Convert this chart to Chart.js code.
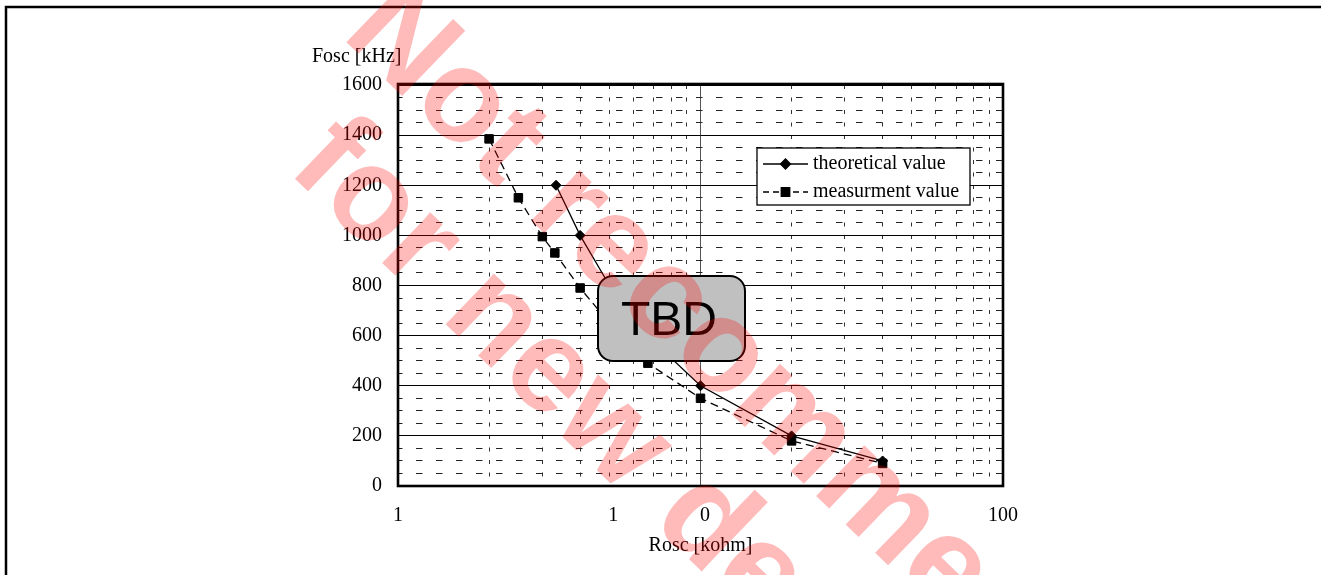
<!DOCTYPE html>
<html>
<head>
<meta charset="utf-8">
<title>Fosc vs Rosc</title>
<script src="https://cdn.jsdelivr.net/npm/chart.js@4.4.1/dist/chart.umd.min.js"></script>
<style>
    html, body { margin: 0; padding: 0; background: #fff; }
    #wrap { width: 1321px; height: 575px; }
</style>
</head>
<body>
<div id="wrap"><canvas id="myChart" width="1321" height="575"></canvas></div>
<script>
// values
var roscTheory = [3.33, 4, 5, 6.67, 10, 20, 40]
var foscTheory = [1200, 1000, 800, 600, 400, 200, 100]
var roscMeas = [2, 2.5, 3, 3.3, 4, 5, 6.7, 10, 20, 40]
var foscMeas = [1385, 1150, 995, 930, 790, 650, 490, 350, 180, 90]

// axes
var xGridVals = [1, 2, 3, 4, 5, 6, 7, 8, 9, 10, 20, 30, 40, 50, 60, 70, 80, 90, 100]
var xLabelVals = [1, 5.15, 10.35, 100]
var xLabelText = ["1", "1", "0", "100"]
var yMin = 0, yMax = 1600, yStep = 50, yLabelStep = 200

var serif = "'Liberation Serif', 'Times New Roman', serif"

function toPoints(xs, ys) {
    var pts = []
    for (i = 0; i < xs.length; i++) {
        pts.push({ x: xs[i], y: ys[i] })
    }
    return pts
}

var allXTicks = xGridVals.concat(xLabelVals.filter(function (v) {
    return xGridVals.indexOf(v) < 0
})).sort(function (a, b) { return a - b })

// frame, legend, TBD box, watermark
var extras = {
    id: "extras",
    afterDraw: function (chart) {
        var ctx = chart.ctx
        var a = chart.chartArea
        ctx.save()

        // plot frame
        ctx.strokeStyle = "#000"
        ctx.lineWidth = 2.6
        ctx.strokeRect(a.left, a.top - 1, a.right - a.left, a.bottom - a.top + 1)

        // page frame
        ctx.lineWidth = 2.5
        ctx.strokeRect(6, 7, 1500, 800)

        // y axis title
        ctx.fillStyle = "#000"
        ctx.font = "20px " + serif
        ctx.textAlign = "left"
        ctx.textBaseline = "middle"
        ctx.fillText("Fosc [kHz]", 312, 57)

        // legend
        var lx = 757, ly = 148, lw = 213, lh = 57
        ctx.fillStyle = "#fff"
        ctx.fillRect(lx, ly, lw, lh)
        ctx.lineWidth = 1.3
        ctx.strokeStyle = "#000"
        ctx.strokeRect(lx, ly, lw, lh)
        var rows = [164, 192]
        chart.data.datasets.forEach(function (ds, k) {
            var y = rows[k]
            ctx.save()
            ctx.strokeStyle = "#000"
            ctx.lineWidth = 1.3
            ctx.setLineDash(k === 0 ? [] : [6, 4])
            ctx.beginPath()
            ctx.moveTo(763, y)
            ctx.lineTo(808, y)
            ctx.stroke()
            ctx.restore()
            Chart.helpers.drawPoint(ctx, {
                pointStyle: ds.pointStyle,
                radius: ds.pointRadius,
                borderWidth: 1
            }, 785.5, y)
            ctx.fillStyle = "#000"
            ctx.fill()
            ctx.font = "20px " + serif
            ctx.textAlign = "left"
            ctx.textBaseline = "middle"
            ctx.fillText(ds.label, 813, y)
        })

        // TBD box
        var bx = 598, by = 276, bw = 147, bh = 85, r = 15
        ctx.beginPath()
        ctx.moveTo(bx + r, by)
        ctx.arcTo(bx + bw, by, bx + bw, by + bh, r)
        ctx.arcTo(bx + bw, by + bh, bx, by + bh, r)
        ctx.arcTo(bx, by + bh, bx, by, r)
        ctx.arcTo(bx, by, bx + bw, by, r)
        ctx.closePath()
        ctx.fillStyle = "#c0c0c0"
        ctx.fill()
        ctx.lineWidth = 2
        ctx.strokeStyle = "#000"
        ctx.stroke()
        ctx.fillStyle = "#000"
        ctx.font = "48px 'Liberation Sans', Arial, sans-serif"
        ctx.textAlign = "center"
        ctx.textBaseline = "alphabetic"
        ctx.fillText("TBD", 669, 335)

        // watermark
        ctx.fillStyle = "rgba(255, 0, 0, 0.27)"
        ctx.font = "bold 132px 'Liberation Sans', Arial, sans-serif"
        ctx.textAlign = "left"
        var ang = 44 * Math.PI / 180
        var lines = [["Not recommended", 340, 36], ["for new design", 286, 170]]
        lines.forEach(function (l) {
            ctx.save()
            ctx.translate(l[1], l[2])
            ctx.rotate(ang)
            ctx.fillText(l[0], 0, 0)
            ctx.restore()
        })

        ctx.restore()
    }
}

new Chart("myChart", {
    type: "line",
    data: {
        datasets: [{
            label: "theoretical value",
            data: toPoints(roscTheory, foscTheory),
            borderColor: "#000",
            backgroundColor: "#000",
            borderWidth: 1.3,
            pointStyle: "rectRot",
            pointRadius: 5,
            pointBorderWidth: 1,
            fill: false,
            tension: 0
        }, {
            label: "measurment value",
            data: toPoints(roscMeas, foscMeas),
            borderColor: "#000",
            backgroundColor: "#000",
            borderWidth: 1.3,
            borderDash: [8, 5],
            pointStyle: "rect",
            pointRadius: 6,
            pointBorderWidth: 1,
            fill: false,
            tension: 0
        }]
    },
    options: {
        responsive: false,
        animation: false,
        devicePixelRatio: 1,
        layout: { padding: { left: 338, right: 318, top: 85, bottom: 0 } },
        plugins: {
            legend: { display: false },
            tooltip: { enabled: false }
        },
        scales: {
            x: {
                type: "logarithmic",
                min: 1,
                max: 100,
                afterBuildTicks: function (scale) {
                    scale.ticks = allXTicks.map(function (v) { return { value: v } })
                },
                afterFit: function (scale) { scale.height = 89 },
                ticks: {
                    autoSkip: false,
                    maxRotation: 0,
                    padding: 18,
                    color: "#000",
                    font: { family: serif, size: 20 },
                    callback: function (v) {
                        var k = xLabelVals.indexOf(v)
                        return k >= 0 ? xLabelText[k] : ""
                    }
                },
                grid: {
                    drawTicks: false,
                    lineWidth: 1,
                    color: function (c) {
                        var v = c.tick ? c.tick.value : null
                        if (xGridVals.indexOf(v) < 0) return "rgba(0,0,0,0)"
                        if (v === 10) return "#555"
                        return "#333"
                    }
                },
                border: {
                    display: false,
                    dash: function (c) {
                        if (!c.tick || c.tick.value === 10) return []
                        return [4, 8.5]
                    }
                },
                title: {
                    display: true,
                    text: "Rosc [kohm]",
                    color: "#000",
                    font: { family: serif, size: 20 },
                    padding: { top: 0, bottom: 17 }
                }
            },
            y: {
                type: "linear",
                min: yMin,
                max: yMax,
                afterFit: function (scale) { scale.width = 60 },
                ticks: {
                    stepSize: yStep,
                    autoSkip: false,
                    padding: 16,
                    color: "#000",
                    font: { family: serif, size: 20 },
                    callback: function (v) {
                        return v % yLabelStep === 0 ? String(v) : ""
                    }
                },
                grid: {
                    drawTicks: false,
                    lineWidth: 1,
                    color: function (c) {
                        var v = c.tick ? c.tick.value : 0
                        return v % yLabelStep === 0 ? "#000" : "#222"
                    }
                },
                border: {
                    display: false,
                    dash: function (c) {
                        if (!c.tick || c.tick.value % yLabelStep === 0) return []
                        return [6.5, 13.5]
                    },
                    dashOffset: 2
                }
            }
        }
    },
    plugins: [extras]
});
</script>
</body>
</html>
